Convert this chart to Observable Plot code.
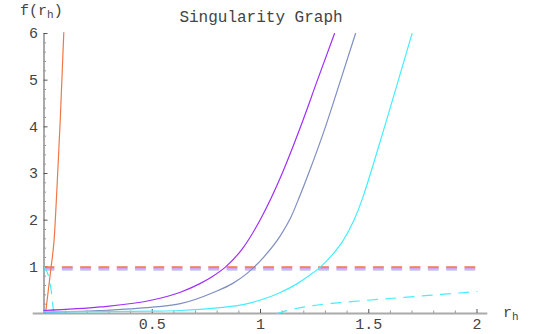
<!DOCTYPE html>
<html><head><meta charset="utf-8">
<script src="https://cdn.jsdelivr.net/npm/d3@7"></script>
<script src="https://cdn.jsdelivr.net/npm/@observablehq/plot@0.6"></script>
<style>body{margin:0;background:#fff} svg{display:block}</style>
</head><body><div id="chart"></div>
<script>
// ---- text ----
const titleText = "Singularity Graph";
const yLabelMain = "f(r", yLabelSub = "h", yLabelEnd = ")";
const xLabelMain = "r", xLabelSub = "h";

// ---- ticks ----
const xMajorTicks = [0.5, 1, 1.5, 2];
const xMinorTicks = [0.1, 0.2, 0.3, 0.4, 0.6, 0.7, 0.8, 0.9, 1.1, 1.2, 1.3, 1.4, 1.6, 1.7, 1.8, 1.9];
const yMajorTicks = [1, 2, 3, 4, 5, 6];
const yMinorTicks = [0.2, 0.4, 0.6, 0.8, 1.2, 1.4, 1.6, 1.8, 2.2, 2.4, 2.6, 2.8, 3.2, 3.4, 3.6, 3.8, 4.2, 4.4, 4.6, 4.8, 5.2, 5.4, 5.6, 5.8];
const xDomain = [0, 2];
const yDomain = [0, 6];
const xAxisExtent = [-0.05, 2.05];

// ---- solid curves ----
const orangeX = [0.007, 0.02, 0.033, 0.047, 0.06, 0.075, 0.0915];
const orangeY = [0, 0.5, 1.0, 1.6, 2.7, 4.14, 6.02];

const purpleX = [0, 0.26, 0.5, 0.63, 0.72, 0.78, 0.839, 0.915, 1.0, 1.1, 1.185, 1.263, 1.342];
const purpleY = [0.064, 0.14, 0.29, 0.456, 0.64, 0.8, 1.0, 1.38, 2.02, 3.0, 4.0, 5.0, 6.0];

const slateX = [0, 0.25, 0.5, 0.63, 0.785, 0.87, 0.938, 1.015, 1.092, 1.139, 1.18, 1.222, 1.30, 1.37, 1.439];
const slateY = [0.025, 0.06, 0.135, 0.21, 0.456, 0.64, 0.86, 1.21, 1.67, 2.05, 2.5, 3.0, 4.0, 5.0, 6.0];

const cyanX = [0, 0.3, 0.5, 0.63, 0.8, 0.94, 1.0, 1.092, 1.17, 1.23, 1.277, 1.33, 1.38, 1.43, 1.47, 1.508, 1.573, 1.637, 1.70];
const cyanY = [0.035, 0.04, 0.05, 0.064, 0.12, 0.21, 0.29, 0.45, 0.64, 0.83, 1.0, 1.25, 1.55, 1.98, 2.45, 3.0, 4.0, 5.0, 6.0];

// ---- dashed curves ----
const dashOrangeX = [0, 0.5, 1, 1.5, 2];
const dashOrangeY = [1.0, 1.0, 1.0, 1.0, 1.0];
const dashPurpleX = [0, 0.5, 1, 1.5, 2];
const dashPurpleY = [0.975, 0.975, 0.975, 0.975, 0.975];
const dashSlateX = [0, 0.5, 1, 1.5, 2];
const dashSlateY = [0.935, 0.935, 0.935, 0.935, 0.935];
const dashCyanNearX = [0, 0.01, 0.022, 0.035, 0.045, 0.048];
const dashCyanNearY = [1.0, 0.93, 0.78, 0.43, 0.03, 0];
const dashCyanFarX = [1.077, 1.123, 1.216, 1.31, 1.40, 1.46, 1.646, 2.0];
const dashCyanFarY = [0, 0.064, 0.15, 0.21, 0.245, 0.27, 0.34, 0.47];

// ---- layout / style ----
const W = 540, H = 334;
const M = {top: 33, right: 63.5, bottom: 21, left: 43.5};
const frameW = W - M.left - M.right;
const frameH = H - M.top - M.bottom;
const C = {orange: "#f07848", purple: "#a030f8", slate: "#7f8fc0", cyan: "#44eeff"};
const font = "'Liberation Mono', 'DejaVu Sans Mono', monospace";

const rows = (xs, ys) => xs.map((x, i) => ({x, y: ys[i]}));
const solid = (xs, ys, color) => Plot.line(rows(xs, ys), {x: "x", y: "y", stroke: color, strokeWidth: 1.2, curve: "monotone-x"});
const dashed = (xs, ys, color) => Plot.line(rows(xs, ys), {x: "x", y: "y", stroke: color, strokeWidth: 1.2, strokeDasharray: "10,8.3", curve: "monotone-x"});

const plot = Plot.plot({
  width: W, height: H,
  marginTop: M.top, marginRight: M.right, marginBottom: M.bottom, marginLeft: M.left,
  x: {domain: xDomain, axis: null},
  y: {domain: yDomain, axis: null},
  style: {fontFamily: font, fontSize: "15px", background: "white", color: "#444"},
  marks: [
    Plot.ruleY([0], {x1: () => xAxisExtent[0], x2: () => xAxisExtent[1], stroke: "#aaa", strokeWidth: 2}),
    Plot.ruleX([0], {stroke: "#aaa", strokeWidth: 2}),
    Plot.tickX(xMinorTicks, {x: d => d, insetTop: frameH - 2.5, stroke: "#999"}),
    Plot.tickX(xMajorTicks, {x: d => d, insetTop: frameH - 4, stroke: "#555"}),
    Plot.tickY(yMinorTicks, {y: d => d, insetRight: frameW - 2.5, stroke: "#999"}),
    Plot.tickY(yMajorTicks, {y: d => d, insetRight: frameW - 4, stroke: "#555"}),
    Plot.axisX(xMajorTicks, {tickSize: 0, tickPadding: 5, fontSize: 15, tickFormat: d => String(d), label: null}),
    Plot.axisY(yMajorTicks, {tickSize: 0, tickPadding: 6, fontSize: 15, tickFormat: d => String(d), label: null}),
    dashed(dashOrangeX, dashOrangeY, C.orange),
    dashed(dashPurpleX, dashPurpleY, "#b040e8"),
    dashed(dashSlateX, dashSlateY, "#a4b0d8"),
    dashed(dashCyanNearX, dashCyanNearY, C.cyan),
    dashed(dashCyanFarX, dashCyanFarY, C.cyan),
    solid(orangeX, orangeY, C.orange),
    solid(purpleX, purpleY, C.purple),
    solid(slateX, slateY, C.slate),
    solid(cyanX, cyanY, C.cyan)
  ]
});

const svg = d3.select(plot);
svg.append("text").attr("x", 261).attr("y", 22).attr("text-anchor", "middle")
  .attr("font-family", font).attr("font-size", 16).attr("fill", "#444").text(titleText);

const yl = svg.append("text").attr("x", 20).attr("y", 15).attr("text-anchor", "start")
  .attr("font-family", font).attr("font-size", 15).attr("fill", "#444");
yl.append("tspan").text(yLabelMain);
yl.append("tspan").attr("dy", 3).attr("font-size", 11).text(yLabelSub);
yl.append("tspan").attr("dy", -3).text(yLabelEnd);

const xl = svg.append("text").attr("x", 503).attr("y", 317).attr("text-anchor", "start")
  .attr("font-family", font).attr("font-size", 15).attr("fill", "#444");
xl.append("tspan").text(xLabelMain);
xl.append("tspan").attr("dy", 3).attr("font-size", 11).text(xLabelSub);

document.getElementById("chart").appendChild(plot);
</script>
</body></html>
